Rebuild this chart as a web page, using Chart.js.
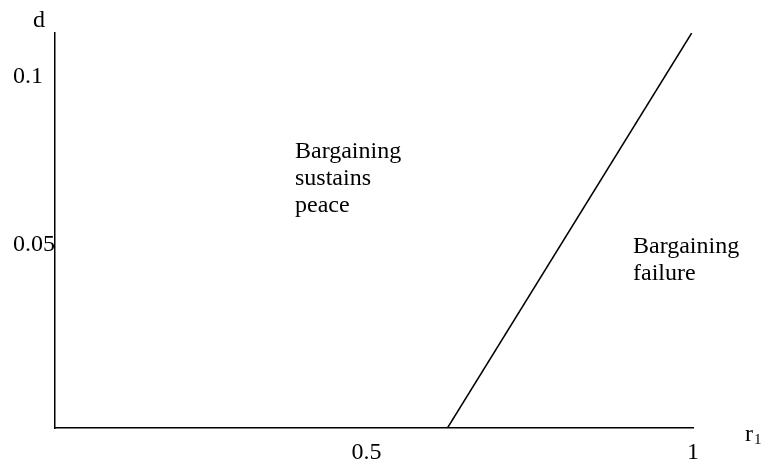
<!DOCTYPE html>
<html>
<head>
<meta charset="utf-8">
<script src="https://cdn.jsdelivr.net/npm/chart.js@4.4.1/dist/chart.umd.min.js"></script>
<style>
  html, body { margin: 0; padding: 0; background: #fff; }
  #wrap { width: 763px; height: 467px; }
</style>
</head>
<body>
<div id="wrap"><canvas id="chart"></canvas></div>
<script>
// Boundary line between the two regions (r1, d)
const boundaryR1 = [0.624, 0.998];
const boundaryD = [-0.0045, 0.1131];

// Axis ticks shown
const xTicks = [0.5, 1];
const yTicks = [0.05, 0.1];

// Region labels
const regionPeace = ['Bargaining', 'sustains', 'peace'];
const regionFailure = ['Bargaining', 'failure'];

const serif = '"Liberation Serif", "Times New Roman", serif';

// Draw axis titles and region labels
const labelPlugin = {
    id: 'labels',
    afterDraw(chart) {
        const ctx = chart.ctx;
        ctx.save();
        ctx.fillStyle = '#000';
        ctx.textBaseline = 'alphabetic';
        ctx.textAlign = 'left';
        ctx.font = '24px ' + serif;

        // y-axis title
        ctx.fillText('d', 33, 27);

        // x-axis title with subscript
        ctx.fillText('r', 745, 441);
        ctx.font = '15px ' + serif;
        ctx.fillText('1', 754, 444);

        ctx.font = '24px ' + serif;
        regionPeace.forEach((t, i) => ctx.fillText(t, 295, 158 + i * 27));
        regionFailure.forEach((t, i) => ctx.fillText(t, 633, 253 + i * 27));
        ctx.restore();
    }
};

const ctx = document.getElementById('chart').getContext('2d');
new Chart(ctx, {
    type: 'scatter',
    data: {
        datasets: [{
            data: boundaryR1.map((x, i) => ({ x: x, y: boundaryD[i] })),
            showLine: true,
            borderColor: '#000',
            borderWidth: 1.5,
            pointRadius: 0,
            fill: false
        }]
    },
    options: {
        responsive: true,
        maintainAspectRatio: false,
        animation: false,
        layout: { padding: { top: 33, right: 70, left: 13, bottom: 0 } },
        plugins: {
            legend: { display: false },
            tooltip: { enabled: false }
        },
        scales: {
            x: {
                type: 'linear',
                min: 0.023,
                max: 1.0,
                afterBuildTicks: s => { s.ticks = xTicks.map(v => ({ value: v })); },
                afterFit: s => { s.height = 39; },
                grid: { display: false, drawTicks: false },
                border: { display: true, color: '#000', width: 1.5 },
                ticks: {
                    color: '#000',
                    font: { family: serif, size: 24 },
                    padding: 10,
                    maxRotation: 0,
                    callback: v => String(v)
                }
            },
            y: {
                type: 'linear',
                min: -0.0045,
                max: 0.1131,
                afterBuildTicks: s => { s.ticks = yTicks.map(v => ({ value: v })); },
                afterFit: s => { s.width = 42; },
                grid: { display: false, drawTicks: false },
                border: { display: true, color: '#000', width: 1.5 },
                ticks: {
                    color: '#000',
                    font: { family: serif, size: 24 },
                    padding: 0,
                    crossAlign: 'far',
                    callback: v => String(v)
                }
            }
        }
    },
    plugins: [labelPlugin]
});
</script>
</body>
</html>
